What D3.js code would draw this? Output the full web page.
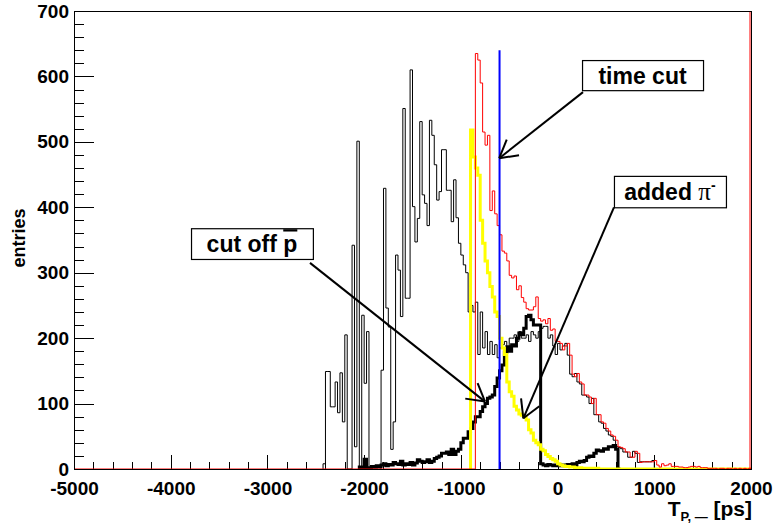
<!DOCTYPE html>
<html>
<head>
<meta charset="utf-8">
<script src="https://cdn.jsdelivr.net/npm/d3@7"></script>
<style>
body { margin: 0; background: #fff; }
text { font-family: "Liberation Sans", Arial, Helvetica, sans-serif; font-weight: bold; }
</style>
</head>
<body>
<script>
// histogram bins are 25 ps wide, arrays start at the given low edge
var binWidth = 25;

var thinStart = -2425;
var thinVals = [8,149,149,95,95,133,86,147,72,205,0,0,342,34,501,0,235,131,210,0,0,0,0,0,
  151,429,246,217,30,72,327,304,233,551,261,261,610,401,347,383,531,419,406,372,533,510,465,411,424,488,
  488,426,426,378,442,384,345,327,312,300,240,250,240,255,175,240,185,210,175,195,175,190,170,185,
  190,195,185,200,200,205,195,210,200,200,205,195,210,205,200,210,
  215,218,218,200,205,188,175,
  192,182,188,192,174,145,141,146,133,130,113,113,110,100,108,83,83,72,70,62,58,52,50,44,34,33,31,26,26,18,
  18,27,24,10,11,11,11,11,11,13];

var thickStart = -2050;
var thickVals = [3,0,15,0,2,4,3,5,4,6,8,5,7,6,10,8,7,12,6,8,7,10,6,9,14,12,10,11,14,10,12,16,18,20,24,24,
  26,22,30,22,27,30,40,47,47,57,62,72,80,80,88,95,100,108,110,113,126,139,150,159,179,187,180,190,188,200,
  208,205,215,233,235,228,220,220,220,8,6,5,7,6,5,6,5,6,5,6,7,6,8,6,10,12,11,13,18,20,19,24,29,28,27,31,
  30,34,34,36,30,0];

var yellowStart = -900;
var yellowVals = [518,477,460,449,380,345,318,300,279,263,240,233,200,185,175,133,118,111,96,90,84,82,80,75,
  60,55,44,40,37,30,28,22,19,16,14,12,8,6,5,4,4,3,3,2,2,2,1,1,1,1,1,1,1];

var redStart = -850;
var redVals = [635,625,590,515,495,510,395,425,390,372,358,333,330,318,296,292,295,274,280,262,255,245,243,243,
  248,263,230,226,228,222,230,212,214,195,195,192,182,188,192,174,145,141,146,133,130,113,113,110,100,108,
  83,83,72,70,62,58,52,50,44,34,33,31,26,26,18,18,27,24,10,11,11,11,11,11,13,6,3,8,5,6,8,4,4,4,3,3,2,2,
  3,4,4,3,4,2,2,2,1,1,1,1,0,1,1,0,1,1,0,1,0,1,0,1,0,1];

var timeCut = -600, timeCutTop = 640;

var xTicks = [-5000,-4000,-3000,-2000,-1000,0,1000,2000];
var yTicks = [0,100,200,300,400,500,600,700];

var svg = d3.select("body").append("svg").attr("width", 775).attr("height", 527);

var x = d3.scaleLinear().domain([-5000, 2000]).range([74, 751]);
var y = d3.scaleLinear().domain([0, 700]).range([469, 11]);

svg.append("clipPath").attr("id", "frame")
  .append("rect").attr("x", 74).attr("y", 11).attr("width", 677).attr("height", 458);

// minor ticks first, ROOT style (inside the frame)
var xMinor = d3.range(-5000, 2001, 200);
var yMinor = d3.range(0, 701, 20);

svg.append("g").attr("transform", "translate(0,469)")
  .call(d3.axisBottom(x).tickValues(xMinor).tickSize(-7).tickFormat(""))
  .call(function(g){ g.select(".domain").remove(); });
svg.append("g").attr("transform", "translate(74,0)")
  .call(d3.axisLeft(y).tickValues(yMinor).tickSize(-10).tickFormat(""))
  .call(function(g){ g.select(".domain").remove(); });

var xAxis = svg.append("g").attr("transform", "translate(0,469)")
  .call(d3.axisBottom(x).tickValues(xTicks).tickSize(-14).tickPadding(13).tickFormat(function(d){ return String(d); }));
xAxis.select(".domain").remove();
xAxis.selectAll("text").attr("font-size", 19).attr("font-family", null).attr("fill", "#000");

var yAxis = svg.append("g").attr("transform", "translate(74,0)")
  .call(d3.axisLeft(y).tickValues(yTicks).tickSize(-20).tickPadding(5).tickFormat(function(d){ return String(d); }));
yAxis.select(".domain").remove();
yAxis.selectAll("text").attr("font-size", 19).attr("font-family", null).attr("fill", "#000");

svg.selectAll(".tick line").attr("shape-rendering", "crispEdges");

function stepPath(start, vals, from, to) {
  var p = d3.path();
  p.moveTo(x(from), y(0));
  p.lineTo(x(start), y(0));
  vals.forEach(function(v, i) {
    var a = start + i * binWidth;
    p.lineTo(x(a), y(v));
    p.lineTo(x(a + binWidth), y(v));
  });
  var end = start + vals.length * binWidth;
  p.lineTo(x(end), y(0));
  p.lineTo(x(to), y(0));
  return p.toString();
}

var plot = svg.append("g").attr("clip-path", "url(#frame)");

plot.append("path").attr("d", stepPath(thinStart, thinVals, thinStart, thinStart + thinVals.length * binWidth))
  .attr("fill", "none").attr("stroke", "#000").attr("stroke-width", 1);
plot.append("path").attr("d", stepPath(thickStart, thickVals, thickStart, thickStart + thickVals.length * binWidth))
  .attr("fill", "none").attr("stroke", "#000").attr("stroke-width", 3);
plot.append("path").attr("d", stepPath(yellowStart, yellowVals, yellowStart, 2000))
  .attr("fill", "none").attr("stroke", "#ffff00").attr("stroke-width", 3);
plot.append("path").attr("d", stepPath(redStart, redVals, -5000, 2000))
  .attr("fill", "none").attr("stroke", "#ff0000").attr("stroke-width", 1);
plot.append("line")
  .attr("x1", x(2000) - 1).attr("x2", x(2000) - 1).attr("y1", y(0)).attr("y2", y(700))
  .attr("stroke", "#ff0000").attr("stroke-width", 1);

// time cut
plot.append("line")
  .attr("x1", x(timeCut)).attr("x2", x(timeCut)).attr("y1", y(0)).attr("y2", y(timeCutTop))
  .attr("stroke", "#0000ff").attr("stroke-width", 2);

// frame
svg.append("rect").attr("x", 74.5).attr("y", 11.5).attr("width", 677).attr("height", 458)
  .attr("fill", "none").attr("stroke", "#000").attr("stroke-width", 1);

// axis titles
svg.append("text")
  .attr("transform", "translate(25,238) rotate(-90)")
  .attr("text-anchor", "middle").attr("font-size", 18).text("entries");

var xt = svg.append("text").attr("x", 752).attr("y", 516).attr("text-anchor", "end").attr("font-size", 21);
xt.append("tspan").text("T");
xt.append("tspan").attr("font-size", 13).attr("dy", 5).text("P, \u2014");
xt.append("tspan").attr("dy", -5).text(" [ps]");

// annotations, in data units
function arrow(p0, p1) {
  var x1 = x(p0[0]), y1 = y(p0[1]), x2 = x(p1[0]), y2 = y(p1[1]);
  var ang = Math.atan2(y2 - y1, x2 - x1), len = 20, spread = 0.52;
  var g = svg.append("g").attr("stroke", "#000").attr("stroke-width", 2);
  g.append("line").attr("x1", x1).attr("y1", y1).attr("x2", x2).attr("y2", y2);
  [-spread, spread].forEach(function(s) {
    g.append("line").attr("x1", x2).attr("y1", y2)
      .attr("x2", x2 - len * Math.cos(ang + s)).attr("y2", y2 - len * Math.sin(ang + s));
  });
}

function box(b) {
  svg.append("rect").attr("x", x(b[0]) + 0.5).attr("y", y(b[2]) + 0.5)
    .attr("width", x(b[1]) - x(b[0])).attr("height", y(b[3]) - y(b[2]))
    .attr("fill", "#fff").attr("stroke", "#000").attr("stroke-width", 1.2);
  return svg.append("text").attr("x", (x(b[0]) + x(b[1])) / 2).attr("y", y(b[2]) + 24)
    .attr("text-anchor", "middle").attr("font-size", 23);
}

arrow([-2560, 315], [-750, 103]);
arrow([263, 576], [-603, 475]);
arrow([583, 400], [-354, 77.5]);

var t1 = box([-3790, -2530, 368, 321]);
t1.append("tspan").text("cut off ");
t1.append("tspan").attr("text-decoration", "overline").style("text-decoration", "overline").text("p");

var t2 = box([253, 1504, 625, 579]);
t2.text("time cut");

var t3 = box([583, 1741, 448, 400]);
t3.append("tspan").text("added ");
t3.append("tspan").attr("font-family", "'Liberation Serif', 'Times New Roman', serif").attr("font-weight", "normal").attr("font-size", 25).text("\u03c0");
t3.append("tspan").attr("font-size", 14).attr("dy", -10).text("-");
</script>
</body>
</html>
